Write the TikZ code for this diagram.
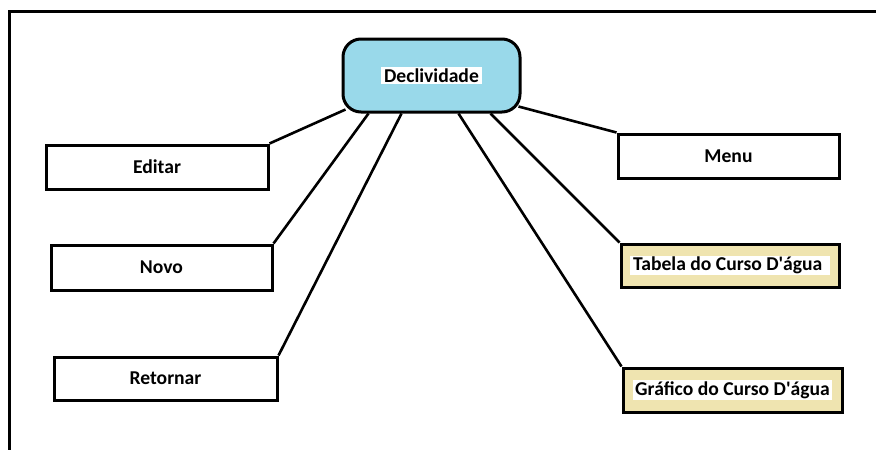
\documentclass[tikz,border=0pt]{standalone}
\usepackage{fontspec}
\newfontfamily\lbl{Carlito}
\usetikzlibrary{calc,backgrounds}
\definecolor{turq}{RGB}{153,217,234}
\definecolor{tanfill}{RGB}{239,228,176}
% white highlight behind a label
\newcommand\hlw[1]{{\setlength\fboxsep{1.2pt}\colorbox{white}{\hspace{1.5pt}#1\hspace{1.5pt}}}}
\begin{document}
\begin{tikzpicture}[x=1pt,y=-1pt,
  lbltext/.style={font=\lbl\fontsize{19.6}{23}\selectfont\bfseries},
  hub/.style={lbltext, draw, line width=3pt, fill=turq, rounded corners=18pt,
    minimum width=177pt, minimum height=73pt, inner sep=0pt},
  leaf/.style={lbltext, draw, line width=3pt, fill=white,
    minimum height=44pt, inner sep=0pt},
  tanleaf/.style={leaf, fill=tanfill},
  link/.style={line width=2.6pt},
  frame/.style={line width=3pt}]
\useasboundingbox (0,0) rectangle (876,450);
\begin{scope}[on background layer]
  \fill[white] (0,0) rectangle (876,450);
\end{scope}

% outer frame (top and left sides)
\draw[frame] (9.5,452) -- (9.5,11.5) -- (878,11.5);

% central node
\node[hub] (decl) at (431.5,75.5) {\hlw{Declividade}};

% left-hand options
\node[leaf, minimum width=222pt] (editar) at (157,167) {Editar};
\node[leaf, minimum width=221pt, minimum height=45pt] (novo) at (161.5,267.5) {Novo};
\node[leaf, minimum width=223pt, minimum height=43pt] (retornar) at (165.5,378.5) {Retornar};

% right-hand options
\node[leaf, minimum width=221pt] (menu) at (728.5,156) {Menu};
\node[tanleaf, minimum width=218pt, minimum height=43pt] (tabela) at (730,265.5) {\hlw{Tabela do Curso D'água\ }};
\node[tanleaf, minimum width=219pt] (grafico) at (732.5,390) {\hlw{Gráfico do Curso D'água}};

% connectors from the central node
\begin{scope}[on background layer]
  \draw[link] (editar.north east) -- ($(decl.south west)+(4,-4)$);
  \draw[link] (novo.north east) -- ($(decl.south west)+(27,0)$);
  \draw[link] (retornar.north east) -- ($(decl.south west)+(60,0)$);
  \draw[link] (grafico.north west) -- ($(decl.south west)+(117,0)$);
  \draw[link] (tabela.north west) -- ($(decl.south west)+(149,0)$);
  \draw[link] (menu.north west) -- ($(decl.south east)+(-3,-7)$);
\end{scope}
\end{tikzpicture}
\end{document}
